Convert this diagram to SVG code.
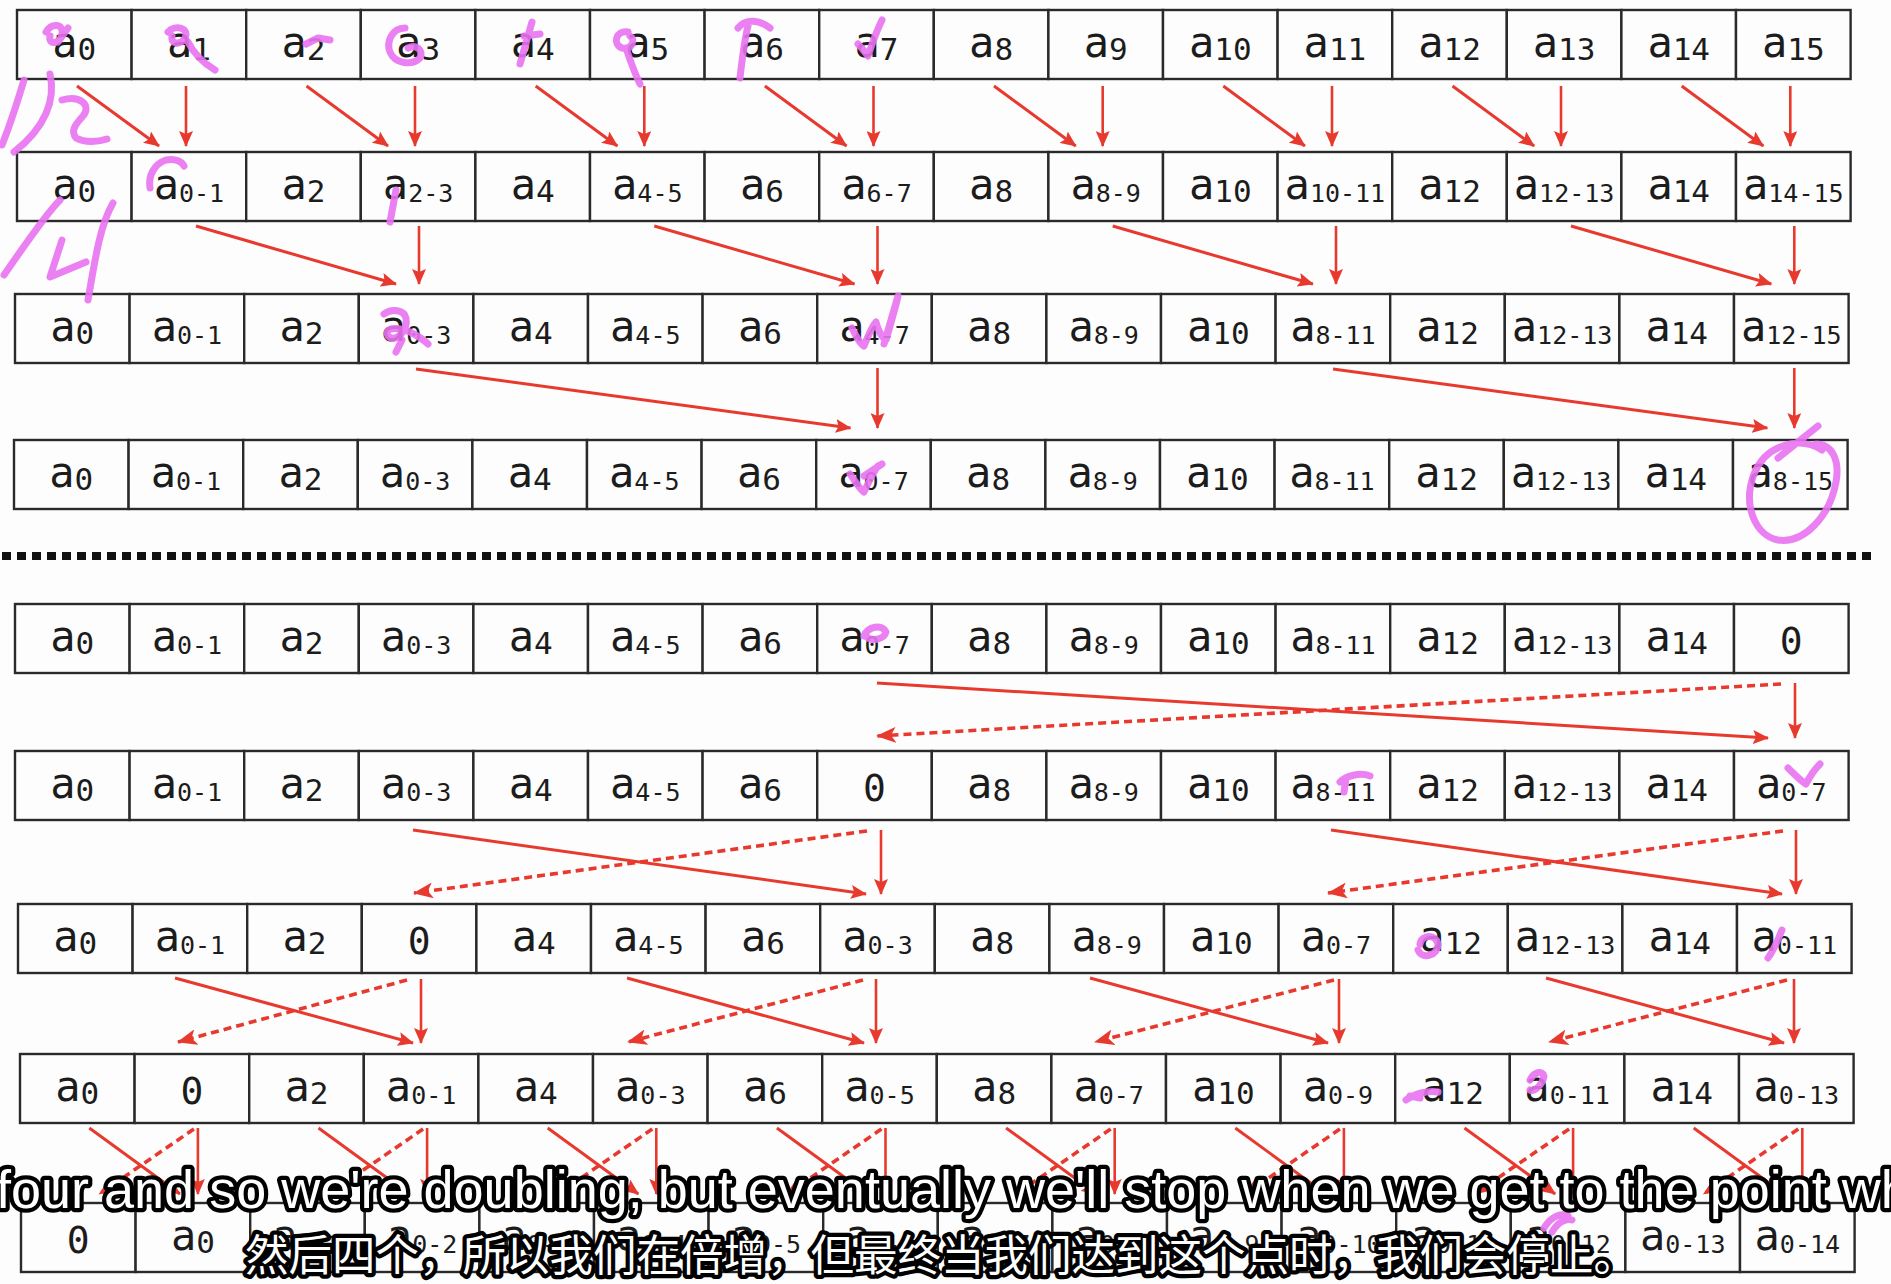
<svg xmlns="http://www.w3.org/2000/svg" width="1891" height="1284" viewBox="0 0 1891 1284">
<style>
#nodes rect{fill:#fdfdfd;stroke:#2a2a2a;stroke-width:2.4}
#nodes text{font-family:"DejaVu Sans Mono","Liberation Mono",monospace;font-size:42px;text-anchor:middle;fill:#1c1c1c}
#nodes .s{font-size:31px}
#nodes .l{font-size:25px}
#nodes text.z{font-size:38px}
#connectors line{stroke:#e8392e;fill:none}
#connectors .sd{stroke-width:3;marker-end:url(#ah)}
#connectors .vt{stroke-width:2.6;marker-end:url(#ah)}
#connectors .ds{stroke-width:3.6;stroke-dasharray:8 5;marker-end:url(#ahd)}
.pk{fill:none;stroke:#e872f0;stroke-width:7;stroke-linecap:round;stroke-linejoin:round;opacity:0.9}
.sub{font-family:"Liberation Sans",Arial,sans-serif;fill:#fff;stroke:#000;stroke-width:8.5;stroke-linejoin:round;paint-order:stroke}
</style>
<defs>
<marker id="ah" viewBox="0 0 16 14" refX="15" refY="7" markerWidth="16" markerHeight="14" markerUnits="userSpaceOnUse" orient="auto"><path d="M0,0 L16,7 L0,14 L3,7 z" fill="#e8392e"/></marker>
<marker id="ahd" viewBox="0 0 20 16" refX="19" refY="8" markerWidth="20" markerHeight="16" markerUnits="userSpaceOnUse" orient="auto"><path d="M0,0 L20,8 L0,16 L5,8 z" fill="#e8392e"/></marker>
</defs>
<rect width="1891" height="1284" fill="#fdfdfd"/>
<g id="nodes">
<g id="row1" transform="translate(17,10)">
<g id="n1-0"><rect x="0" width="114.6" height="69"/><text x="57.3" y="47">a<tspan class="s" dy="3">0</tspan></text></g>
<g id="n1-1"><rect x="114.6" width="114.6" height="69"/><text x="171.9" y="47">a<tspan class="s" dy="3">1</tspan></text></g>
<g id="n1-2"><rect x="229.2" width="114.6" height="69"/><text x="286.5" y="47">a<tspan class="s" dy="3">2</tspan></text></g>
<g id="n1-3"><rect x="343.8" width="114.6" height="69"/><text x="401.1" y="47">a<tspan class="s" dy="3">3</tspan></text></g>
<g id="n1-4"><rect x="458.4" width="114.6" height="69"/><text x="515.7" y="47">a<tspan class="s" dy="3">4</tspan></text></g>
<g id="n1-5"><rect x="573" width="114.6" height="69"/><text x="630.3" y="47">a<tspan class="s" dy="3">5</tspan></text></g>
<g id="n1-6"><rect x="687.6" width="114.6" height="69"/><text x="744.9" y="47">a<tspan class="s" dy="3">6</tspan></text></g>
<g id="n1-7"><rect x="802.2" width="114.6" height="69"/><text x="859.5" y="47">a<tspan class="s" dy="3">7</tspan></text></g>
<g id="n1-8"><rect x="916.8" width="114.6" height="69"/><text x="974.1" y="47">a<tspan class="s" dy="3">8</tspan></text></g>
<g id="n1-9"><rect x="1031.4" width="114.6" height="69"/><text x="1088.7" y="47">a<tspan class="s" dy="3">9</tspan></text></g>
<g id="n1-10"><rect x="1146" width="114.6" height="69"/><text x="1203.3" y="47">a<tspan class="s" dy="3">10</tspan></text></g>
<g id="n1-11"><rect x="1260.6" width="114.6" height="69"/><text x="1317.9" y="47">a<tspan class="s" dy="3">11</tspan></text></g>
<g id="n1-12"><rect x="1375.2" width="114.6" height="69"/><text x="1432.5" y="47">a<tspan class="s" dy="3">12</tspan></text></g>
<g id="n1-13"><rect x="1489.8" width="114.6" height="69"/><text x="1547.1" y="47">a<tspan class="s" dy="3">13</tspan></text></g>
<g id="n1-14"><rect x="1604.4" width="114.6" height="69"/><text x="1661.7" y="47">a<tspan class="s" dy="3">14</tspan></text></g>
<g id="n1-15"><rect x="1719" width="114.6" height="69"/><text x="1776.3" y="47">a<tspan class="s" dy="3">15</tspan></text></g>
</g>
<g id="row2" transform="translate(17,152)">
<g id="n2-0"><rect x="0" width="114.6" height="69"/><text x="57.3" y="47">a<tspan class="s" dy="3">0</tspan></text></g>
<g id="n2-1"><rect x="114.6" width="114.6" height="69"/><text x="171.9" y="47">a<tspan class="l" dy="3">0-1</tspan></text></g>
<g id="n2-2"><rect x="229.2" width="114.6" height="69"/><text x="286.5" y="47">a<tspan class="s" dy="3">2</tspan></text></g>
<g id="n2-3"><rect x="343.8" width="114.6" height="69"/><text x="401.1" y="47">a<tspan class="l" dy="3">2-3</tspan></text></g>
<g id="n2-4"><rect x="458.4" width="114.6" height="69"/><text x="515.7" y="47">a<tspan class="s" dy="3">4</tspan></text></g>
<g id="n2-5"><rect x="573" width="114.6" height="69"/><text x="630.3" y="47">a<tspan class="l" dy="3">4-5</tspan></text></g>
<g id="n2-6"><rect x="687.6" width="114.6" height="69"/><text x="744.9" y="47">a<tspan class="s" dy="3">6</tspan></text></g>
<g id="n2-7"><rect x="802.2" width="114.6" height="69"/><text x="859.5" y="47">a<tspan class="l" dy="3">6-7</tspan></text></g>
<g id="n2-8"><rect x="916.8" width="114.6" height="69"/><text x="974.1" y="47">a<tspan class="s" dy="3">8</tspan></text></g>
<g id="n2-9"><rect x="1031.4" width="114.6" height="69"/><text x="1088.7" y="47">a<tspan class="l" dy="3">8-9</tspan></text></g>
<g id="n2-10"><rect x="1146" width="114.6" height="69"/><text x="1203.3" y="47">a<tspan class="s" dy="3">10</tspan></text></g>
<g id="n2-11"><rect x="1260.6" width="114.6" height="69"/><text x="1317.9" y="47">a<tspan class="l" dy="3">10-11</tspan></text></g>
<g id="n2-12"><rect x="1375.2" width="114.6" height="69"/><text x="1432.5" y="47">a<tspan class="s" dy="3">12</tspan></text></g>
<g id="n2-13"><rect x="1489.8" width="114.6" height="69"/><text x="1547.1" y="47">a<tspan class="l" dy="3">12-13</tspan></text></g>
<g id="n2-14"><rect x="1604.4" width="114.6" height="69"/><text x="1661.7" y="47">a<tspan class="s" dy="3">14</tspan></text></g>
<g id="n2-15"><rect x="1719" width="114.6" height="69"/><text x="1776.3" y="47">a<tspan class="l" dy="3">14-15</tspan></text></g>
</g>
<g id="row3" transform="translate(15,294)">
<g id="n3-0"><rect x="0" width="114.6" height="69"/><text x="57.3" y="47">a<tspan class="s" dy="3">0</tspan></text></g>
<g id="n3-1"><rect x="114.6" width="114.6" height="69"/><text x="171.9" y="47">a<tspan class="l" dy="3">0-1</tspan></text></g>
<g id="n3-2"><rect x="229.2" width="114.6" height="69"/><text x="286.5" y="47">a<tspan class="s" dy="3">2</tspan></text></g>
<g id="n3-3"><rect x="343.8" width="114.6" height="69"/><text x="401.1" y="47">a<tspan class="l" dy="3">0-3</tspan></text></g>
<g id="n3-4"><rect x="458.4" width="114.6" height="69"/><text x="515.7" y="47">a<tspan class="s" dy="3">4</tspan></text></g>
<g id="n3-5"><rect x="573" width="114.6" height="69"/><text x="630.3" y="47">a<tspan class="l" dy="3">4-5</tspan></text></g>
<g id="n3-6"><rect x="687.6" width="114.6" height="69"/><text x="744.9" y="47">a<tspan class="s" dy="3">6</tspan></text></g>
<g id="n3-7"><rect x="802.2" width="114.6" height="69"/><text x="859.5" y="47">a<tspan class="l" dy="3">4-7</tspan></text></g>
<g id="n3-8"><rect x="916.8" width="114.6" height="69"/><text x="974.1" y="47">a<tspan class="s" dy="3">8</tspan></text></g>
<g id="n3-9"><rect x="1031.4" width="114.6" height="69"/><text x="1088.7" y="47">a<tspan class="l" dy="3">8-9</tspan></text></g>
<g id="n3-10"><rect x="1146" width="114.6" height="69"/><text x="1203.3" y="47">a<tspan class="s" dy="3">10</tspan></text></g>
<g id="n3-11"><rect x="1260.6" width="114.6" height="69"/><text x="1317.9" y="47">a<tspan class="l" dy="3">8-11</tspan></text></g>
<g id="n3-12"><rect x="1375.2" width="114.6" height="69"/><text x="1432.5" y="47">a<tspan class="s" dy="3">12</tspan></text></g>
<g id="n3-13"><rect x="1489.8" width="114.6" height="69"/><text x="1547.1" y="47">a<tspan class="l" dy="3">12-13</tspan></text></g>
<g id="n3-14"><rect x="1604.4" width="114.6" height="69"/><text x="1661.7" y="47">a<tspan class="s" dy="3">14</tspan></text></g>
<g id="n3-15"><rect x="1719" width="114.6" height="69"/><text x="1776.3" y="47">a<tspan class="l" dy="3">12-15</tspan></text></g>
</g>
<g id="row4" transform="translate(14,440)">
<g id="n4-0"><rect x="0" width="114.6" height="69"/><text x="57.3" y="47">a<tspan class="s" dy="3">0</tspan></text></g>
<g id="n4-1"><rect x="114.6" width="114.6" height="69"/><text x="171.9" y="47">a<tspan class="l" dy="3">0-1</tspan></text></g>
<g id="n4-2"><rect x="229.2" width="114.6" height="69"/><text x="286.5" y="47">a<tspan class="s" dy="3">2</tspan></text></g>
<g id="n4-3"><rect x="343.8" width="114.6" height="69"/><text x="401.1" y="47">a<tspan class="l" dy="3">0-3</tspan></text></g>
<g id="n4-4"><rect x="458.4" width="114.6" height="69"/><text x="515.7" y="47">a<tspan class="s" dy="3">4</tspan></text></g>
<g id="n4-5"><rect x="573" width="114.6" height="69"/><text x="630.3" y="47">a<tspan class="l" dy="3">4-5</tspan></text></g>
<g id="n4-6"><rect x="687.6" width="114.6" height="69"/><text x="744.9" y="47">a<tspan class="s" dy="3">6</tspan></text></g>
<g id="n4-7"><rect x="802.2" width="114.6" height="69"/><text x="859.5" y="47">a<tspan class="l" dy="3">0-7</tspan></text></g>
<g id="n4-8"><rect x="916.8" width="114.6" height="69"/><text x="974.1" y="47">a<tspan class="s" dy="3">8</tspan></text></g>
<g id="n4-9"><rect x="1031.4" width="114.6" height="69"/><text x="1088.7" y="47">a<tspan class="l" dy="3">8-9</tspan></text></g>
<g id="n4-10"><rect x="1146" width="114.6" height="69"/><text x="1203.3" y="47">a<tspan class="s" dy="3">10</tspan></text></g>
<g id="n4-11"><rect x="1260.6" width="114.6" height="69"/><text x="1317.9" y="47">a<tspan class="l" dy="3">8-11</tspan></text></g>
<g id="n4-12"><rect x="1375.2" width="114.6" height="69"/><text x="1432.5" y="47">a<tspan class="s" dy="3">12</tspan></text></g>
<g id="n4-13"><rect x="1489.8" width="114.6" height="69"/><text x="1547.1" y="47">a<tspan class="l" dy="3">12-13</tspan></text></g>
<g id="n4-14"><rect x="1604.4" width="114.6" height="69"/><text x="1661.7" y="47">a<tspan class="s" dy="3">14</tspan></text></g>
<g id="n4-15"><rect x="1719" width="114.6" height="69"/><text x="1776.3" y="47">a<tspan class="l" dy="3">8-15</tspan></text></g>
</g>
<g id="row5" transform="translate(15,604)">
<g id="n5-0"><rect x="0" width="114.6" height="69"/><text x="57.3" y="47">a<tspan class="s" dy="3">0</tspan></text></g>
<g id="n5-1"><rect x="114.6" width="114.6" height="69"/><text x="171.9" y="47">a<tspan class="l" dy="3">0-1</tspan></text></g>
<g id="n5-2"><rect x="229.2" width="114.6" height="69"/><text x="286.5" y="47">a<tspan class="s" dy="3">2</tspan></text></g>
<g id="n5-3"><rect x="343.8" width="114.6" height="69"/><text x="401.1" y="47">a<tspan class="l" dy="3">0-3</tspan></text></g>
<g id="n5-4"><rect x="458.4" width="114.6" height="69"/><text x="515.7" y="47">a<tspan class="s" dy="3">4</tspan></text></g>
<g id="n5-5"><rect x="573" width="114.6" height="69"/><text x="630.3" y="47">a<tspan class="l" dy="3">4-5</tspan></text></g>
<g id="n5-6"><rect x="687.6" width="114.6" height="69"/><text x="744.9" y="47">a<tspan class="s" dy="3">6</tspan></text></g>
<g id="n5-7"><rect x="802.2" width="114.6" height="69"/><text x="859.5" y="47">a<tspan class="l" dy="3">0-7</tspan></text></g>
<g id="n5-8"><rect x="916.8" width="114.6" height="69"/><text x="974.1" y="47">a<tspan class="s" dy="3">8</tspan></text></g>
<g id="n5-9"><rect x="1031.4" width="114.6" height="69"/><text x="1088.7" y="47">a<tspan class="l" dy="3">8-9</tspan></text></g>
<g id="n5-10"><rect x="1146" width="114.6" height="69"/><text x="1203.3" y="47">a<tspan class="s" dy="3">10</tspan></text></g>
<g id="n5-11"><rect x="1260.6" width="114.6" height="69"/><text x="1317.9" y="47">a<tspan class="l" dy="3">8-11</tspan></text></g>
<g id="n5-12"><rect x="1375.2" width="114.6" height="69"/><text x="1432.5" y="47">a<tspan class="s" dy="3">12</tspan></text></g>
<g id="n5-13"><rect x="1489.8" width="114.6" height="69"/><text x="1547.1" y="47">a<tspan class="l" dy="3">12-13</tspan></text></g>
<g id="n5-14"><rect x="1604.4" width="114.6" height="69"/><text x="1661.7" y="47">a<tspan class="s" dy="3">14</tspan></text></g>
<g id="n5-15"><rect x="1719" width="114.6" height="69"/><text class="z" x="1776.3" y="50">0</text></g>
</g>
<g id="row6" transform="translate(15,751)">
<g id="n6-0"><rect x="0" width="114.6" height="69"/><text x="57.3" y="47">a<tspan class="s" dy="3">0</tspan></text></g>
<g id="n6-1"><rect x="114.6" width="114.6" height="69"/><text x="171.9" y="47">a<tspan class="l" dy="3">0-1</tspan></text></g>
<g id="n6-2"><rect x="229.2" width="114.6" height="69"/><text x="286.5" y="47">a<tspan class="s" dy="3">2</tspan></text></g>
<g id="n6-3"><rect x="343.8" width="114.6" height="69"/><text x="401.1" y="47">a<tspan class="l" dy="3">0-3</tspan></text></g>
<g id="n6-4"><rect x="458.4" width="114.6" height="69"/><text x="515.7" y="47">a<tspan class="s" dy="3">4</tspan></text></g>
<g id="n6-5"><rect x="573" width="114.6" height="69"/><text x="630.3" y="47">a<tspan class="l" dy="3">4-5</tspan></text></g>
<g id="n6-6"><rect x="687.6" width="114.6" height="69"/><text x="744.9" y="47">a<tspan class="s" dy="3">6</tspan></text></g>
<g id="n6-7"><rect x="802.2" width="114.6" height="69"/><text class="z" x="859.5" y="50">0</text></g>
<g id="n6-8"><rect x="916.8" width="114.6" height="69"/><text x="974.1" y="47">a<tspan class="s" dy="3">8</tspan></text></g>
<g id="n6-9"><rect x="1031.4" width="114.6" height="69"/><text x="1088.7" y="47">a<tspan class="l" dy="3">8-9</tspan></text></g>
<g id="n6-10"><rect x="1146" width="114.6" height="69"/><text x="1203.3" y="47">a<tspan class="s" dy="3">10</tspan></text></g>
<g id="n6-11"><rect x="1260.6" width="114.6" height="69"/><text x="1317.9" y="47">a<tspan class="l" dy="3">8-11</tspan></text></g>
<g id="n6-12"><rect x="1375.2" width="114.6" height="69"/><text x="1432.5" y="47">a<tspan class="s" dy="3">12</tspan></text></g>
<g id="n6-13"><rect x="1489.8" width="114.6" height="69"/><text x="1547.1" y="47">a<tspan class="l" dy="3">12-13</tspan></text></g>
<g id="n6-14"><rect x="1604.4" width="114.6" height="69"/><text x="1661.7" y="47">a<tspan class="s" dy="3">14</tspan></text></g>
<g id="n6-15"><rect x="1719" width="114.6" height="69"/><text x="1776.3" y="47">a<tspan class="l" dy="3">0-7</tspan></text></g>
</g>
<g id="row7" transform="translate(18,904)">
<g id="n7-0"><rect x="0" width="114.6" height="69"/><text x="57.3" y="47">a<tspan class="s" dy="3">0</tspan></text></g>
<g id="n7-1"><rect x="114.6" width="114.6" height="69"/><text x="171.9" y="47">a<tspan class="l" dy="3">0-1</tspan></text></g>
<g id="n7-2"><rect x="229.2" width="114.6" height="69"/><text x="286.5" y="47">a<tspan class="s" dy="3">2</tspan></text></g>
<g id="n7-3"><rect x="343.8" width="114.6" height="69"/><text class="z" x="401.1" y="50">0</text></g>
<g id="n7-4"><rect x="458.4" width="114.6" height="69"/><text x="515.7" y="47">a<tspan class="s" dy="3">4</tspan></text></g>
<g id="n7-5"><rect x="573" width="114.6" height="69"/><text x="630.3" y="47">a<tspan class="l" dy="3">4-5</tspan></text></g>
<g id="n7-6"><rect x="687.6" width="114.6" height="69"/><text x="744.9" y="47">a<tspan class="s" dy="3">6</tspan></text></g>
<g id="n7-7"><rect x="802.2" width="114.6" height="69"/><text x="859.5" y="47">a<tspan class="l" dy="3">0-3</tspan></text></g>
<g id="n7-8"><rect x="916.8" width="114.6" height="69"/><text x="974.1" y="47">a<tspan class="s" dy="3">8</tspan></text></g>
<g id="n7-9"><rect x="1031.4" width="114.6" height="69"/><text x="1088.7" y="47">a<tspan class="l" dy="3">8-9</tspan></text></g>
<g id="n7-10"><rect x="1146" width="114.6" height="69"/><text x="1203.3" y="47">a<tspan class="s" dy="3">10</tspan></text></g>
<g id="n7-11"><rect x="1260.6" width="114.6" height="69"/><text x="1317.9" y="47">a<tspan class="l" dy="3">0-7</tspan></text></g>
<g id="n7-12"><rect x="1375.2" width="114.6" height="69"/><text x="1432.5" y="47">a<tspan class="s" dy="3">12</tspan></text></g>
<g id="n7-13"><rect x="1489.8" width="114.6" height="69"/><text x="1547.1" y="47">a<tspan class="l" dy="3">12-13</tspan></text></g>
<g id="n7-14"><rect x="1604.4" width="114.6" height="69"/><text x="1661.7" y="47">a<tspan class="s" dy="3">14</tspan></text></g>
<g id="n7-15"><rect x="1719" width="114.6" height="69"/><text x="1776.3" y="47">a<tspan class="l" dy="3">0-11</tspan></text></g>
</g>
<g id="row8" transform="translate(20,1054)">
<g id="n8-0"><rect x="0" width="114.6" height="69"/><text x="57.3" y="47">a<tspan class="s" dy="3">0</tspan></text></g>
<g id="n8-1"><rect x="114.6" width="114.6" height="69"/><text class="z" x="171.9" y="50">0</text></g>
<g id="n8-2"><rect x="229.2" width="114.6" height="69"/><text x="286.5" y="47">a<tspan class="s" dy="3">2</tspan></text></g>
<g id="n8-3"><rect x="343.8" width="114.6" height="69"/><text x="401.1" y="47">a<tspan class="l" dy="3">0-1</tspan></text></g>
<g id="n8-4"><rect x="458.4" width="114.6" height="69"/><text x="515.7" y="47">a<tspan class="s" dy="3">4</tspan></text></g>
<g id="n8-5"><rect x="573" width="114.6" height="69"/><text x="630.3" y="47">a<tspan class="l" dy="3">0-3</tspan></text></g>
<g id="n8-6"><rect x="687.6" width="114.6" height="69"/><text x="744.9" y="47">a<tspan class="s" dy="3">6</tspan></text></g>
<g id="n8-7"><rect x="802.2" width="114.6" height="69"/><text x="859.5" y="47">a<tspan class="l" dy="3">0-5</tspan></text></g>
<g id="n8-8"><rect x="916.8" width="114.6" height="69"/><text x="974.1" y="47">a<tspan class="s" dy="3">8</tspan></text></g>
<g id="n8-9"><rect x="1031.4" width="114.6" height="69"/><text x="1088.7" y="47">a<tspan class="l" dy="3">0-7</tspan></text></g>
<g id="n8-10"><rect x="1146" width="114.6" height="69"/><text x="1203.3" y="47">a<tspan class="s" dy="3">10</tspan></text></g>
<g id="n8-11"><rect x="1260.6" width="114.6" height="69"/><text x="1317.9" y="47">a<tspan class="l" dy="3">0-9</tspan></text></g>
<g id="n8-12"><rect x="1375.2" width="114.6" height="69"/><text x="1432.5" y="47">a<tspan class="s" dy="3">12</tspan></text></g>
<g id="n8-13"><rect x="1489.8" width="114.6" height="69"/><text x="1547.1" y="47">a<tspan class="l" dy="3">0-11</tspan></text></g>
<g id="n8-14"><rect x="1604.4" width="114.6" height="69"/><text x="1661.7" y="47">a<tspan class="s" dy="3">14</tspan></text></g>
<g id="n8-15"><rect x="1719" width="114.6" height="69"/><text x="1776.3" y="47">a<tspan class="l" dy="3">0-13</tspan></text></g>
</g>
<g id="row9" transform="translate(21,1203)">
<g id="n9-0"><rect x="0" width="114.6" height="69"/><text class="z" x="57.3" y="50">0</text></g>
<g id="n9-1"><rect x="114.6" width="114.6" height="69"/><text x="171.9" y="47">a<tspan class="s" dy="3">0</tspan></text></g>
<g id="n9-2"><rect x="229.2" width="114.6" height="69"/><text x="286.5" y="47">a<tspan class="l" dy="3">0-1</tspan></text></g>
<g id="n9-3"><rect x="343.8" width="114.6" height="69"/><text x="401.1" y="47">a<tspan class="l" dy="3">0-2</tspan></text></g>
<g id="n9-4"><rect x="458.4" width="114.6" height="69"/><text x="515.7" y="47">a<tspan class="l" dy="3">0-3</tspan></text></g>
<g id="n9-5"><rect x="573" width="114.6" height="69"/><text x="630.3" y="47">a<tspan class="l" dy="3">0-4</tspan></text></g>
<g id="n9-6"><rect x="687.6" width="114.6" height="69"/><text x="744.9" y="47">a<tspan class="l" dy="3">0-5</tspan></text></g>
<g id="n9-7"><rect x="802.2" width="114.6" height="69"/><text x="859.5" y="47">a<tspan class="l" dy="3">0-6</tspan></text></g>
<g id="n9-8"><rect x="916.8" width="114.6" height="69"/><text x="974.1" y="47">a<tspan class="l" dy="3">0-7</tspan></text></g>
<g id="n9-9"><rect x="1031.4" width="114.6" height="69"/><text x="1088.7" y="47">a<tspan class="l" dy="3">0-8</tspan></text></g>
<g id="n9-10"><rect x="1146" width="114.6" height="69"/><text x="1203.3" y="47">a<tspan class="l" dy="3">0-9</tspan></text></g>
<g id="n9-11"><rect x="1260.6" width="114.6" height="69"/><text x="1317.9" y="47">a<tspan class="l" dy="3">0-10</tspan></text></g>
<g id="n9-12"><rect x="1375.2" width="114.6" height="69"/><text x="1432.5" y="47">a<tspan class="l" dy="3">0-11</tspan></text></g>
<g id="n9-13"><rect x="1489.8" width="114.6" height="69"/><text x="1547.1" y="47">a<tspan class="l" dy="3">0-12</tspan></text></g>
<g id="n9-14"><rect x="1604.4" width="114.6" height="69"/><text x="1661.7" y="47">a<tspan class="l" dy="3">0-13</tspan></text></g>
<g id="n9-15"><rect x="1719" width="114.6" height="69"/><text x="1776.3" y="47">a<tspan class="l" dy="3">0-14</tspan></text></g>
</g>
</g>
<line id="separator" x1="2" y1="556" x2="1877" y2="556" stroke="#111" stroke-width="8" stroke-dasharray="9 6"/>
<g id="connectors">
<line class="sd" x1="77" y1="86" x2="159" y2="146"/><line class="vt" x1="186" y1="86" x2="186" y2="146"/>
<line class="sd" x1="306.5" y1="86" x2="388" y2="146"/><line class="vt" x1="415" y1="86" x2="415" y2="146"/>
<line class="sd" x1="535.7" y1="86" x2="617.3" y2="146"/><line class="vt" x1="644.3" y1="86" x2="644.3" y2="146"/>
<line class="sd" x1="764.9" y1="86" x2="846.5" y2="146"/><line class="vt" x1="873.5" y1="86" x2="873.5" y2="146"/>
<line class="sd" x1="994" y1="86" x2="1075.7" y2="146"/><line class="vt" x1="1102.7" y1="86" x2="1102.7" y2="146"/>
<line class="sd" x1="1223.3" y1="86" x2="1304.9" y2="146"/><line class="vt" x1="1332" y1="86" x2="1332" y2="146"/>
<line class="sd" x1="1452.5" y1="86" x2="1534.1" y2="146"/><line class="vt" x1="1561" y1="86" x2="1561" y2="146"/>
<line class="sd" x1="1681.7" y1="86" x2="1763.3" y2="146"/><line class="vt" x1="1790.3" y1="86" x2="1790.3" y2="146"/>
<line class="sd" x1="196" y1="226" x2="396" y2="284"/><line class="vt" x1="419" y1="226" x2="419" y2="284"/>
<line class="sd" x1="654.3" y1="226" x2="854.5" y2="284"/><line class="vt" x1="877.5" y1="226" x2="877.5" y2="284"/>
<line class="sd" x1="1112.7" y1="226" x2="1312.9" y2="284"/><line class="vt" x1="1336" y1="226" x2="1336" y2="284"/>
<line class="sd" x1="1571" y1="226" x2="1771.3" y2="284"/><line class="vt" x1="1794.3" y1="226" x2="1794.3" y2="284"/>
<line class="sd" x1="416" y1="369" x2="850.5" y2="428"/><line class="vt" x1="877.5" y1="368" x2="877.5" y2="428"/>
<line class="sd" x1="1333" y1="369" x2="1767.3" y2="428"/><line class="vt" x1="1794.3" y1="368" x2="1794.3" y2="428"/>
<line class="sd" x1="877" y1="683" x2="1768" y2="738"/><line class="ds" x1="1781" y1="684" x2="877" y2="736"/><line class="vt" x1="1795" y1="683" x2="1795" y2="738"/>
<line class="sd" x1="413" y1="830" x2="866" y2="894"/><line class="ds" x1="867" y1="831" x2="414" y2="893"/><line class="vt" x1="881" y1="830" x2="881" y2="894"/>
<line class="sd" x1="1331" y1="830" x2="1782" y2="894"/><line class="ds" x1="1783" y1="831" x2="1328" y2="893"/><line class="vt" x1="1796" y1="830" x2="1796" y2="894"/>
<line class="sd" x1="175" y1="978" x2="413" y2="1043"/><line class="ds" x1="407" y1="980" x2="178" y2="1042"/><line class="vt" x1="421" y1="979" x2="421" y2="1043"/>
<line class="sd" x1="627" y1="978" x2="864" y2="1043"/><line class="ds" x1="863" y1="980" x2="628" y2="1042"/><line class="vt" x1="876" y1="979" x2="876" y2="1043"/>
<line class="sd" x1="1090" y1="978" x2="1328" y2="1043"/><line class="ds" x1="1334" y1="980" x2="1095" y2="1042"/><line class="vt" x1="1339" y1="979" x2="1339" y2="1043"/>
<line class="sd" x1="1546" y1="978" x2="1784" y2="1043"/><line class="ds" x1="1787" y1="980" x2="1549" y2="1042"/><line class="vt" x1="1794" y1="979" x2="1794" y2="1043"/>
<line class="sd" x1="89.3" y1="1128" x2="179.9" y2="1194"/><line class="ds" x1="193.9" y1="1129" x2="99.3" y2="1194"/><line class="vt" x1="197.9" y1="1128" x2="197.9" y2="1194"/>
<line class="sd" x1="318.5" y1="1128" x2="409.1" y2="1194"/><line class="ds" x1="423.1" y1="1129" x2="328.5" y2="1194"/><line class="vt" x1="427.1" y1="1128" x2="427.1" y2="1194"/>
<line class="sd" x1="547.7" y1="1128" x2="638.3" y2="1194"/><line class="ds" x1="652.3" y1="1129" x2="557.7" y2="1194"/><line class="vt" x1="656.3" y1="1128" x2="656.3" y2="1194"/>
<line class="sd" x1="776.9" y1="1128" x2="867.5" y2="1194"/><line class="ds" x1="881.5" y1="1129" x2="786.9" y2="1194"/><line class="vt" x1="885.5" y1="1128" x2="885.5" y2="1194"/>
<line class="sd" x1="1006.1" y1="1128" x2="1096.7" y2="1194"/><line class="ds" x1="1110.7" y1="1129" x2="1016.1" y2="1194"/><line class="vt" x1="1114.7" y1="1128" x2="1114.7" y2="1194"/>
<line class="sd" x1="1235.3" y1="1128" x2="1325.9" y2="1194"/><line class="ds" x1="1339.9" y1="1129" x2="1245.3" y2="1194"/><line class="vt" x1="1343.9" y1="1128" x2="1343.9" y2="1194"/>
<line class="sd" x1="1464.5" y1="1128" x2="1555.1" y2="1194"/><line class="ds" x1="1569.1" y1="1129" x2="1474.5" y2="1194"/><line class="vt" x1="1573.1" y1="1128" x2="1573.1" y2="1194"/>
<line class="sd" x1="1693.7" y1="1128" x2="1784.3" y2="1194"/><line class="ds" x1="1798.3" y1="1129" x2="1703.7" y2="1194"/><line class="vt" x1="1802.3" y1="1128" x2="1802.3" y2="1194"/>
</g>
<g id="ink">
<path class="pk" d="M24,80 C18,100 10,125 2,145"/>
<path class="pk" d="M50,74 C56,100 45,128 14,152"/>
<path class="pk" d="M62,100 C80,95 92,105 83,116 C76,124 70,130 76,138 C85,143 98,142 107,139"/>
<path class="pk" d="M60,200 C45,215 25,245 4,275"/>
<path class="pk" d="M113,203 C100,225 95,260 88,300"/>
<path class="pk" d="M62,240 L50,277 L86,262"/>
<path class="pk" d="M46,32 C52,22 64,24 62,34 C60,44 48,46 50,36 M58,42 L68,28"/>
<path class="pk" d="M168,32 C175,24 190,28 185,38 C180,46 170,44 172,36 M188,42 C195,56 205,64 215,70"/>
<path class="pk" d="M306,44 L318,38 L330,40"/>
<path class="pk" d="M405,28 C392,28 386,42 390,52 C395,64 412,66 420,58 C424,50 416,44 408,48"/>
<path class="pk" d="M532,22 C528,36 524,50 520,64 M524,36 L540,34"/>
<path class="pk" d="M628,32 C616,30 612,44 622,48 C632,50 636,40 630,36 M626,48 C630,60 634,72 640,84"/>
<path class="pk" d="M738,28 C746,18 760,20 770,28 M748,26 C744,42 742,60 740,78"/>
<path class="pk" d="M858,44 C864,50 866,54 868,56 C872,44 876,32 882,20"/>
<path class="pk" d="M150,188 C148,176 154,164 166,160 C176,158 182,162 184,166"/>
<path class="pk" d="M396,190 C394,200 392,212 390,222"/>
<path class="pk" d="M384,314 C392,308 404,310 406,318 C408,330 396,344 388,336 C384,328 396,326 410,332 C418,336 424,340 428,344 M402,340 L396,352"/>
<path class="pk" d="M852,328 C856,336 860,344 864,346 C868,336 872,326 876,322 C878,330 882,338 886,340 C890,326 896,306 898,296 C894,310 888,330 884,344"/>
<path class="pk" d="M850,474 C856,482 860,490 864,492 C868,484 872,474 878,466 M864,476 L882,464"/>
<path class="pk" d="M1822,450 C1800,436 1766,444 1754,474 C1742,506 1756,536 1778,540 C1804,544 1830,516 1836,482 C1840,460 1832,444 1816,444 M1778,458 L1818,426"/>
<path class="pk" d="M864,636 C868,626 882,624 886,632 C884,640 870,642 866,636"/>
<path class="pk" d="M1370,776 C1360,772 1346,776 1340,782 M1346,778 L1344,792"/>
<path class="pk" d="M1788,768 C1796,776 1802,782 1806,784 C1810,776 1816,768 1820,764"/>
<path class="pk" d="M1420,944 C1422,934 1436,934 1438,944 C1438,956 1422,960 1418,950"/>
<path class="pk" d="M1782,930 C1778,940 1774,950 1768,958"/>
<path class="pk" d="M1406,1100 C1414,1094 1428,1090 1438,1092 M1410,1096 L1420,1098"/>
<path class="pk" d="M1530,1080 C1534,1072 1542,1070 1544,1076 C1542,1086 1534,1092 1530,1090"/>
<path class="pk" d="M1544,1228 C1550,1218 1560,1212 1568,1216 M1552,1232 C1558,1222 1566,1218 1572,1220"/>
</g>
<g id="subtitles">
<text class="sub" x="-4" y="1208" font-size="54">four and so we're doubling, but eventually we'll stop when we get to the point wh</text>
<text class="sub" x="245" y="1271" font-size="43.5" style="font-family:'Noto Sans CJK SC','Liberation Sans',sans-serif">然后四个，所以我们在倍增，但最终当我们达到这个点时，我们会停止。</text>
</g>
</svg>
